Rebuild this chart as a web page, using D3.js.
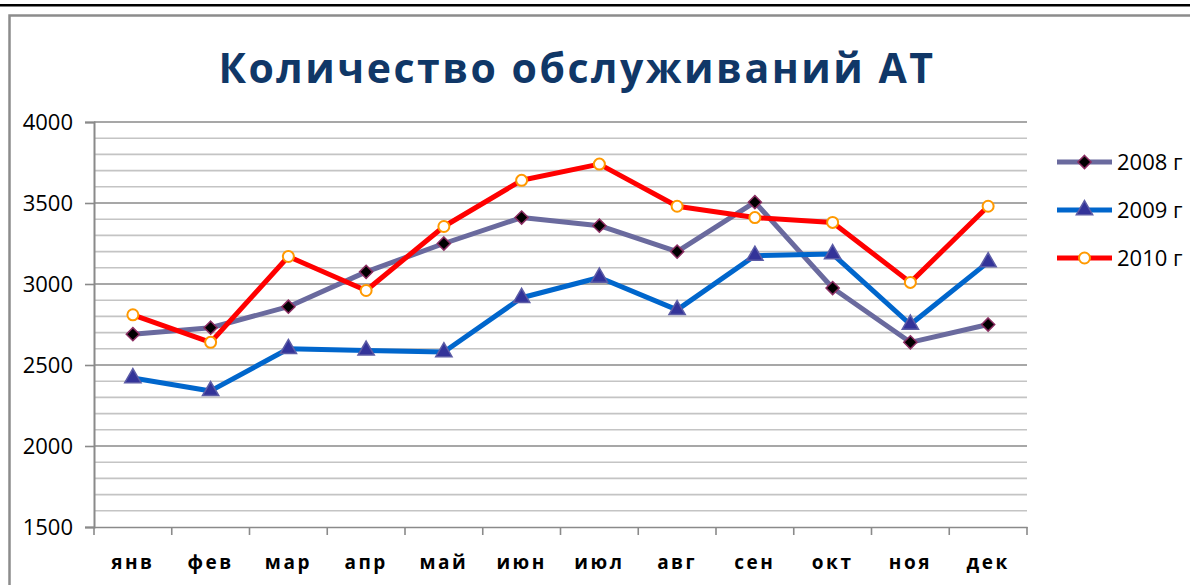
<!DOCTYPE html>
<html>
<head>
<meta charset="utf-8">
<script src="https://cdn.jsdelivr.net/npm/d3@7"></script>
<style>
  body { margin: 0; background: #fff; }
  svg { display: block; }
  svg text { font-family: "Open Sans", "Noto Sans", sans-serif; }
</style>
</head>
<body>
<div id="chart"></div>
<script>
const months = ["янв", "фев", "мар", "апр", "май", "июн", "июл", "авг", "сен", "окт", "ноя", "дек"];
const values2008 = [2690, 2730, 2860, 3075, 3250, 3410, 3360, 3200, 3505, 2975, 2640, 2750];
const values2009 = [2420, 2340, 2600, 2590, 2580, 2915, 3040, 2840, 3175, 3185, 2750, 3135];
const values2010 = [2810, 2640, 3170, 2960, 3355, 3640, 3740, 3480, 3410, 3380, 3010, 3480];
const seriesNames = ["2008 г", "2009 г", "2010 г"];
const yTicks = [1500, 2000, 2500, 3000, 3500, 4000];

const width = 1190, height = 585;
const margin = {left: 94, right: 163, top: 122, bottom: 58};

const svg = d3.select("#chart").append("svg")
  .attr("width", width)
  .attr("height", height);

// outer frame
svg.append("rect").attr("x", 0).attr("y", 4).attr("width", width).attr("height", 2.5).attr("fill", "#000");
svg.append("path")
  .attr("d", `M9.5,${height + 5}V15.5H${width + 5}`)
  .attr("fill", "none").attr("stroke", "#8c8c8c").attr("stroke-width", 2.5);

const x = d3.scaleBand().domain(months).range([margin.left, width - margin.right]);
const y = d3.scaleLinear().domain([1500, 4000]).range([height - margin.bottom, margin.top]);

// gridlines every 100
const grid = svg.append("g");
grid.selectAll("line")
  .data(d3.range(1600, 4001, 100))
  .join("line")
  .attr("x1", margin.left).attr("x2", width - margin.right)
  .attr("y1", d => y(d)).attr("y2", d => y(d))
  .attr("stroke", d => d % 500 === 0 ? "#8a8a8a" : "#c4c4c4")
  .attr("stroke-width", 1.6);

// y axis
const yAxis = svg.append("g")
  .attr("transform", `translate(${margin.left},0)`)
  .call(d3.axisLeft(y).tickValues(yTicks).tickSize(9).tickPadding(12).tickFormat(d3.format("d")));
yAxis.attr("font-family", null);
yAxis.select(".domain").attr("stroke", "#8a8a8a").attr("stroke-width", 2);
yAxis.selectAll(".tick line").attr("stroke", "#8a8a8a").attr("stroke-width", 1.6);
yAxis.selectAll("text").attr("font-size", 22).attr("fill", "#000").attr("dy", "0.35em");

// x axis
const xAxis = svg.append("g")
  .attr("transform", `translate(0,${y(1500)})`)
  .call(d3.axisBottom(x).tickSize(0).tickPadding(29));
xAxis.attr("font-family", null);
xAxis.select(".domain").attr("stroke", "#8a8a8a").attr("stroke-width", 1.6);
xAxis.selectAll("text")
  .attr("font-size", 19).attr("font-weight", "bold").attr("fill", "#000")
  .attr("letter-spacing", "2.5px");
svg.append("g").selectAll("line")
  .data(d3.range(months.length + 1))
  .join("line")
  .attr("x1", i => margin.left + i * x.step()).attr("x2", i => margin.left + i * x.step())
  .attr("y1", y(1500)).attr("y2", y(1500) + 8)
  .attr("stroke", "#8a8a8a").attr("stroke-width", 1.6);

// title
svg.append("text")
  .attr("x", 577).attr("y", 83)
  .attr("text-anchor", "middle")
  .attr("font-size", 41).attr("font-weight", "bold")
  .attr("letter-spacing", "2.5px")
  .attr("fill", "#103767")
  .text("Количество обслуживаний АТ");

const series = [
  {name: seriesNames[0], values: values2008, color: "#6a6a9e", marker: "diamond"},
  {name: seriesNames[1], values: values2009, color: "#0066cc", marker: "triangle"},
  {name: seriesNames[2], values: values2010, color: "#ff0000", marker: "circle"}
];

const line = d3.line()
  .x((d, i) => x(months[i]) + x.bandwidth() / 2)
  .y(d => y(d));

function drawMarker(g, type) {
  if (type === "diamond") {
    g.append("path").attr("d", d3.symbol(d3.symbolDiamond2, 110)())
      .attr("fill", "#000").attr("stroke", "#8b2d62").attr("stroke-width", 1.5);
  } else if (type === "triangle") {
    g.append("path").attr("d", d3.symbol(d3.symbolTriangle, 115)())
      .attr("fill", "#333399").attr("stroke", "#5c5ca6").attr("stroke-width", 1.5);
  } else {
    g.append("circle").attr("r", 5.5)
      .attr("fill", "#fff").attr("stroke", "#ff9900").attr("stroke-width", 2);
  }
}

series.forEach(s => {
  svg.append("path")
    .datum(s.values)
    .attr("fill", "none")
    .attr("stroke", s.color)
    .attr("stroke-width", 5)
    .attr("stroke-linejoin", "round")
    .attr("d", line);
  svg.append("g").selectAll("g")
    .data(s.values)
    .join("g")
    .attr("transform", (d, i) => `translate(${x(months[i]) + x.bandwidth() / 2},${y(d)})`)
    .each(function() { drawMarker(d3.select(this), s.marker); });
});

// legend
const legend = svg.append("g").attr("transform", "translate(1057,162)");
series.forEach((s, i) => {
  const g = legend.append("g").attr("transform", `translate(0,${i * 48})`);
  g.append("line").attr("x1", 0).attr("x2", 55).attr("y1", 0).attr("y2", 0)
    .attr("stroke", s.color).attr("stroke-width", 5);
  const m = g.append("g").attr("transform", "translate(27.5,0)");
  drawMarker(m, s.marker);
  g.append("text").attr("x", 60).attr("y", 0).attr("dy", "0.35em")
    .attr("font-size", 22).attr("fill", "#000").text(s.name);
});
</script>
</body>
</html>
